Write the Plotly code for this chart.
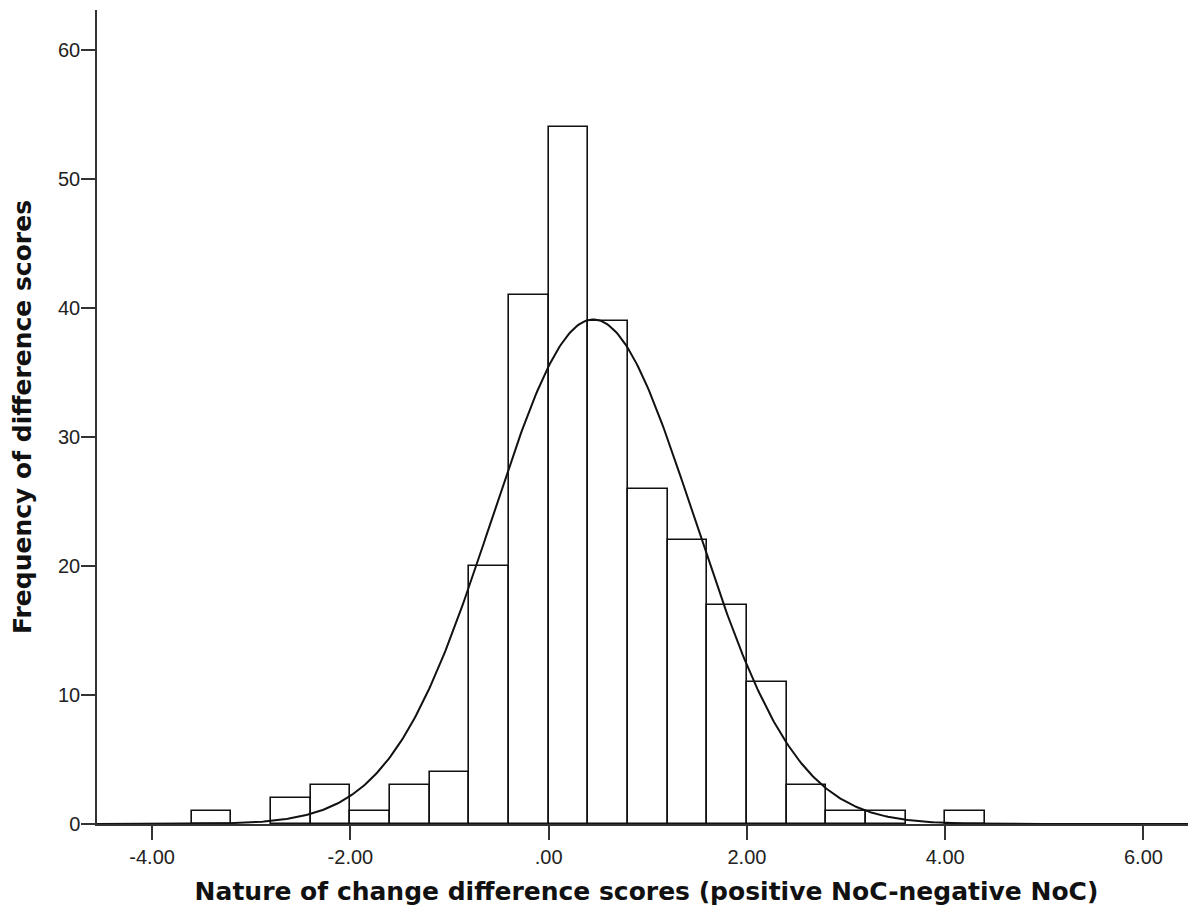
import numpy as np
import plotly.graph_objects as go

# Histogram bins (left edges, width 0.4) and frequencies
bin_left = [-3.6, -3.2, -2.8, -2.4, -2.0, -1.6, -1.2, -0.8, -0.4, 0.0,
            0.4, 0.8, 1.2, 1.6, 2.0, 2.4, 2.8, 3.2, 3.6, 4.0]
counts = [1, 0, 2, 3, 1, 3, 4, 20, 41, 54,
          39, 26, 22, 17, 11, 3, 1, 1, 0, 1]
bin_width = 0.4

# Fitted normal curve parameters
fit_mean = 0.45
fit_sd = 1.02
n_total = sum(counts)

x_tick_vals = [-4, -2, 0, 2, 4, 6]
x_tick_text = ["-4.00", "-2.00", ".00", "2.00", "4.00", "6.00"]
y_tick_vals = [0, 10, 20, 30, 40, 50, 60]

x_range = [-4.556, 6.53]
y_range = [0, 63.1]

centers = [l + bin_width / 2 for l, c in zip(bin_left, counts) if c > 0]
heights = [c for c in counts if c > 0]

xs = np.linspace(x_range[0], x_range[1], 600)
ys = n_total * bin_width / (fit_sd * np.sqrt(2 * np.pi)) * np.exp(-0.5 * ((xs - fit_mean) / fit_sd) ** 2)

fig = go.Figure()
fig.add_trace(go.Bar(
    x=centers, y=heights, width=bin_width,
    marker=dict(color="white", line=dict(color="#111111", width=1.6)),
    hoverinfo="x+y", showlegend=False,
))
fig.add_trace(go.Scatter(
    x=xs, y=ys, mode="lines",
    line=dict(color="#111111", width=2),
    showlegend=False, hoverinfo="skip",
))

tick_font = dict(family="Liberation Sans, Arial, sans-serif", size=20, color="#222222")
title_font = dict(family="DejaVu Sans, Verdana, sans-serif", size=25, color="#111111")

# page body has an 8px margin; size and margins compensate so the plot area
# lands at the same place as in the reference
fig.update_layout(
    width=1188, height=912,
    margin=dict(l=89, r=0, t=2, b=96),
    paper_bgcolor="white", plot_bgcolor="white",
    bargap=0,
    xaxis=dict(
        range=x_range, tickvals=x_tick_vals, ticktext=x_tick_text,
        showgrid=False, zeroline=False,
        showline=True, linecolor="#333333", linewidth=1.5,
        ticks="outside", ticklen=14, tickwidth=1.5, tickcolor="#333333",
        tickfont=tick_font, automargin=False,
        title=dict(text="<b>Nature of change difference scores (positive NoC-negative NoC)</b>",
                   font=title_font, standoff=16),
    ),
    yaxis=dict(
        range=y_range, tickvals=y_tick_vals,
        showgrid=False, zeroline=False,
        showline=True, linecolor="#333333", linewidth=1.5,
        ticks="outside", ticklen=14, tickwidth=1.5, tickcolor="#333333",
        tickfont=tick_font, automargin=False, ticklabelstandoff=-3,
        title=dict(text="<b>Frequency of difference scores</b>",
                   font=title_font, standoff=20),
    ),
)

fig.write_html("out.html")
